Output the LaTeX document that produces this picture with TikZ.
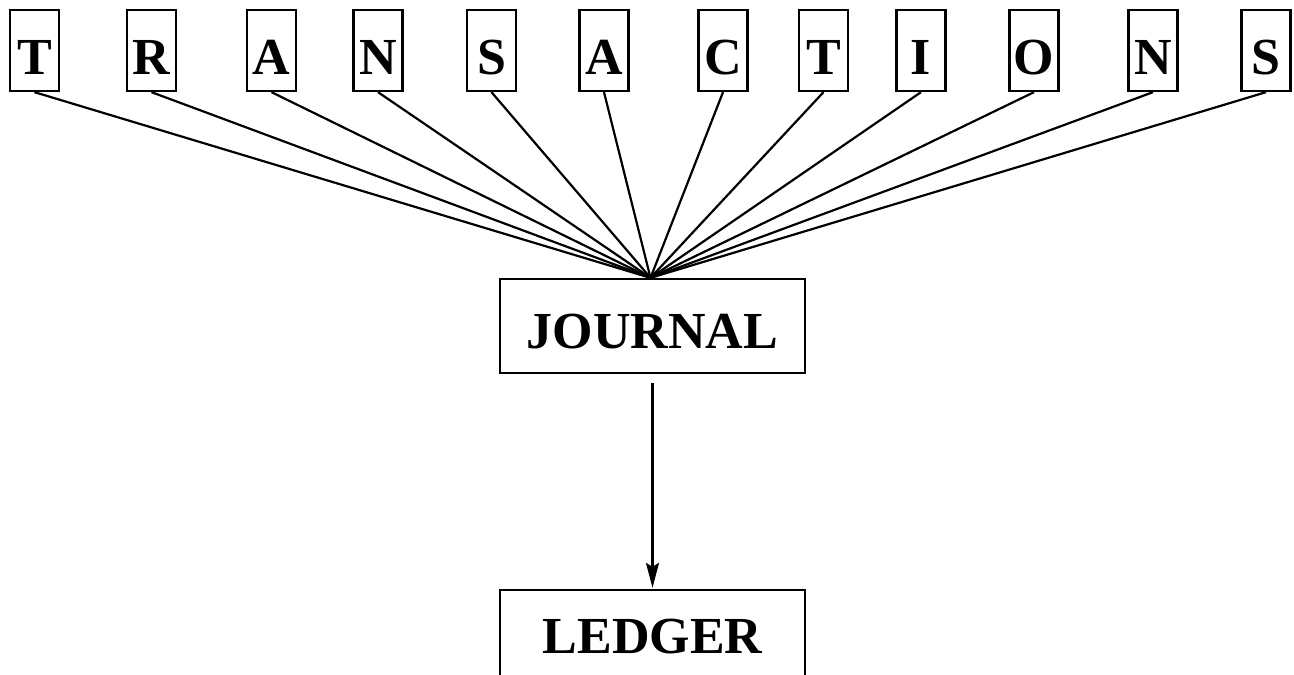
\documentclass[tikz,border=0pt]{standalone}
\usepackage{fontspec}
\setmainfont{Liberation Serif}
\usetikzlibrary{arrows.meta}
\begin{document}
\begin{tikzpicture}[x=1pt,y=-1pt,
  letterbox/.style={draw,line width=2.3pt,inner sep=0pt,minimum width=49pt,minimum height=81pt,
    text height=47pt,text depth=0pt,font=\bfseries\fontsize{52}{60}\selectfont},
  bigbox/.style={draw,line width=2.3pt,inner sep=0pt,minimum width=305pt,minimum height=94pt,
    text depth=0pt,font=\bfseries\fontsize{52}{60}\selectfont},
  fan/.style={line width=2.2pt},
  flow/.style={line width=2.2pt,-{Stealth[length=25pt,width=13pt,inset=4pt]}}]
\clip (0,0) rectangle (1294,675);
\fill[white] (0,0) rectangle (1294,675);
\foreach \x/\l/\n in {34.5/T/l1,151.5/R/l2,271.5/A/l3,378/N/l4,491.5/S/l5,604/A/l6,
                      723/C/l7,823.5/T/l8,921/I/l9,1034/O/l10,1153/N/l11,1266/S/l12}
  \node[letterbox] (\n) at (\x,50.5) {\l};
\node[bigbox,text height=44.6pt] (journal) at (652.5,326) {JOURNAL};
\node[bigbox,text height=32.6pt] (ledger) at (652.5,637) {LEDGER};
\foreach \n in {l1,l2,l3,l4,l5,l6,l7,l8,l9,l10,l11,l12}
  \draw[fan] (\n.south) -- ([xshift=-2pt]journal.north);
\draw[flow,shorten <=9pt,shorten >=1pt] (journal.south) -- (ledger.north);
\end{tikzpicture}
\end{document}
